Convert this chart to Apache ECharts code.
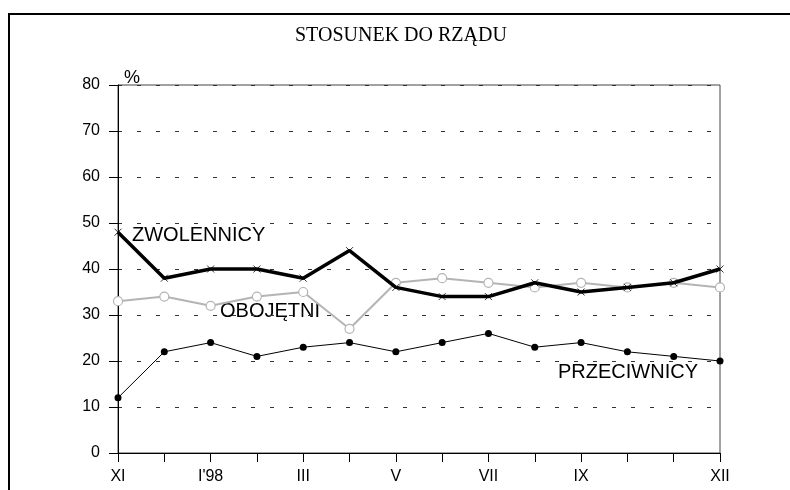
<!DOCTYPE html>
<html>
<head>
<meta charset="utf-8">
<script src="https://cdn.jsdelivr.net/npm/echarts@6/dist/echarts.min.js"></script>
<style>
  html, body { margin: 0; padding: 0; background: #fff; }
  #ChartMain { width: 790px; height: 490px; }
</style>
</head>
<body>
<div id="ChartMain"></div>
<script>
// miesiace XI'97 - XII'98
let months = ['XI', 'XII', 'I\'98', 'II', 'III', 'IV', 'V', 'VI', 'VII', 'VIII', 'IX', 'X', 'XI', 'XII']
let monthLabels = ['XI', '', 'I\'98', '', 'III', '', 'V', '', 'VII', '', 'IX', '', '', 'XII']
let yTicks = [0, 10, 20, 30, 40, 50, 60, 70, 80]

// zwolennicy
let zwolennicy = [48, 38, 40, 40, 38, 44, 36, 34, 34, 37, 35, 36, 37, 40]
// obojetni
let obojetni = [33, 34, 32, 34, 35, 27, 37, 38, 37, 36, 37, 36, 37, 36]
// przeciwnicy
let przeciwnicy = [12, 22, 24, 21, 23, 24, 22, 24, 26, 23, 24, 22, 21, 20]

let sans = '"Liberation Sans", Arial, sans-serif'
let Chart = echarts.init(document.getElementById('ChartMain'))
Chart.setOption({
  animation: false,
  title: {
    text: 'STOSUNEK DO RZĄDU',
    left: 295,
    top: 26,
    padding: 0,
    textStyle: {
      fontFamily: '"Liberation Serif", "Times New Roman", serif',
      fontWeight: 'normal',
      fontSize: 20,
      color: '#000'
    }
  },
  grid: {
    left: 118,
    right: 70,
    top: 85,
    bottom: 37,
    show: true,
    borderColor: '#444',
    borderWidth: 1
  },
  xAxis: {
    type: 'category',
    boundaryGap: false,
    data: months,
    axisLine: { lineStyle: { color: '#000', width: 1 } },
    axisTick: { interval: 0, length: 9, lineStyle: { color: '#000' } },
    axisLabel: {
      interval: 0,
      margin: 16,
      fontFamily: sans,
      fontSize: 16,
      color: '#000',
      formatter: (val, index) => monthLabels[index]
    },
    splitLine: { show: false }
  },
  yAxis: {
    type: 'value',
    min: yTicks[0],
    max: yTicks[yTicks.length - 1],
    interval: 10,
    name: '%',
    nameLocation: 'end',
    nameGap: 0,
    nameTextStyle: {
      fontFamily: sans,
      fontSize: 18,
      color: '#000',
      align: 'left',
      verticalAlign: 'bottom',
      padding: [0, 0, -2, 6]
    },
    axisLine: { show: true, lineStyle: { color: '#000', width: 1 } },
    axisTick: { show: true, length: 9, lineStyle: { color: '#000' } },
    axisLabel: {
      margin: 18,
      fontFamily: sans,
      fontSize: 16,
      color: '#000'
    },
    splitLine: {
      show: true,
      lineStyle: { color: '#333', type: [4, 15], width: 1 }
    }
  },
  graphic: [
    {
      type: 'rect',
      shape: { x: 9, y: 14, width: 820, height: 520 },
      style: { fill: 'none', stroke: '#000', lineWidth: 2 },
      silent: true
    },
    {
      type: 'text', left: 132, top: 225,
      style: { text: 'ZWOLENNICY', font: '20px ' + sans, fill: '#000' }
    },
    {
      type: 'text', left: 220, top: 301,
      style: { text: 'OBOJĘTNI', font: '20px ' + sans, fill: '#000' }
    },
    {
      type: 'text', left: 558, top: 362,
      style: { text: 'PRZECIWNICY', font: '20px ' + sans, fill: '#000' }
    }
  ],
  series: [
    {
      name: 'OBOJĘTNI',
      type: 'line',
      data: obojetni,
      symbol: 'circle',
      symbolSize: 9,
      lineStyle: { color: '#b4b4b4', width: 2 },
      itemStyle: { color: '#fff', borderColor: '#b4b4b4', borderWidth: 1.2 },
      z: 2
    },
    {
      name: 'ZWOLENNICY',
      type: 'line',
      data: zwolennicy,
      symbol: 'path://M0,0L10,10M10,0L0,10',
      symbolSize: 7,
      lineStyle: { color: '#000', width: 3.5 },
      itemStyle: { color: '#000', borderColor: '#000', borderWidth: 0.8 },
      z: 3
    },
    {
      name: 'PRZECIWNICY',
      type: 'line',
      data: przeciwnicy,
      symbol: 'circle',
      symbolSize: 7,
      lineStyle: { color: '#000', width: 1 },
      itemStyle: { color: '#000' },
      z: 3
    }
  ]
})
</script>
</body>
</html>
